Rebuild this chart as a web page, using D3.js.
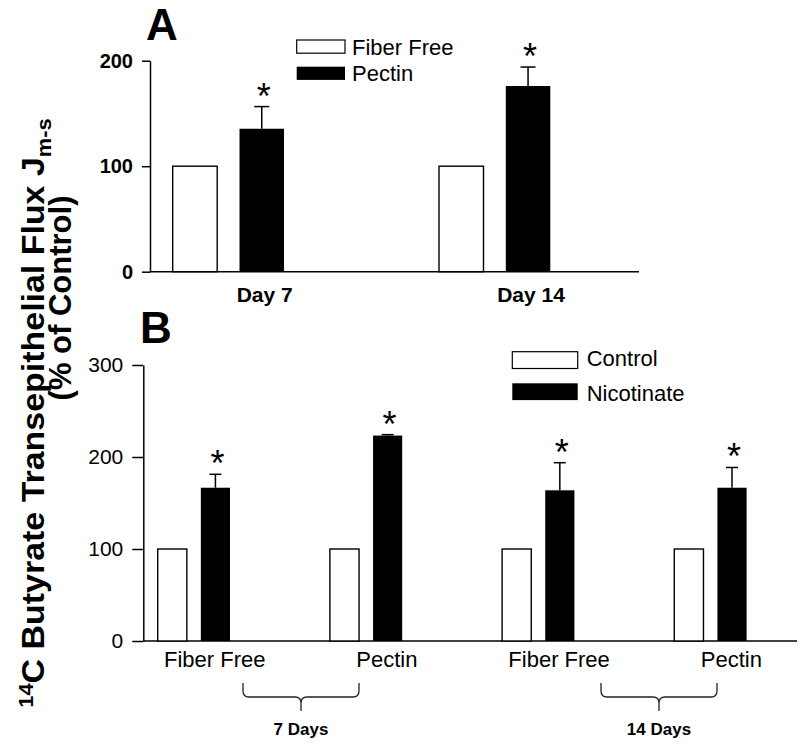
<!DOCTYPE html>
<html><head><meta charset="utf-8">
<script src="https://cdn.jsdelivr.net/npm/d3@7"></script>
<style>
body{margin:0;background:#fff}
svg{display:block}
text{font-family:"Liberation Sans",Arial,Helvetica,sans-serif;fill:#000}
</style>
</head><body>
<svg id="chart" width="809" height="744"></svg>
<script>
// ---------- Panel A data ----------
const daysA = ["Day 7", "Day 14"];
const seriesA = ["Fiber Free", "Pectin"];
const fiberFreeA = [100, 100];
const pectinA = [135.5, 176];
const pectinErrA = [21, 18];
const ticksA = [0, 100, 200];

// ---------- Panel B data ----------
const groupsB = ["FF7", "P7", "FF14", "P14"];
const groupLabelsB = ["Fiber Free", "Pectin", "Fiber Free", "Pectin"];
const seriesB = ["Control", "Nicotinate"];
const controlB = [100, 100, 100, 100];
const nicotinateB = [166.6, 223.3, 163.8, 166.6];
const nicotinateErrB = [14.6, 1, 30, 22];
const periodsB = ["7 Days", "14 Days"];
const ticksB = [0, 100, 200, 300];

const svg = d3.select("#chart");
const ink = "#000";

// ================= PANEL A =================
const yA = d3.scaleLinear().domain([0, 200]).range([271.7, 60.7]);
const xA = d3.scalePoint().domain(daysA).range([172.7, 439]);
const subA = d3.scaleBand().domain(seriesA).range([0, 111.3]).paddingInner(0.334);
const axA = 150;

const gA = svg.append("g");
const axisA = d3.axisLeft(yA).tickValues(ticksA).tickSize(8).tickSizeOuter(0).tickPadding(9);
gA.append("g").attr("transform", `translate(${axA},0)`).call(axisA)
  .call(g => g.selectAll("path,line").attr("stroke", ink).attr("stroke-width", 1.5))
  .call(g => g.selectAll("text").attr("font-size", 20).attr("font-weight", "bold")
    .attr("font-family", '"Liberation Sans",Arial,sans-serif').attr("fill", ink));
gA.append("line").attr("x1", axA).attr("x2", 639).attr("y1", yA(0)).attr("y2", yA(0))
  .attr("stroke", ink).attr("stroke-width", 1.5);

daysA.forEach((d, i) => {
  const x0 = xA(d);
  gA.append("rect").attr("x", x0 + subA("Fiber Free")).attr("y", yA(fiberFreeA[i]))
    .attr("width", subA.bandwidth()).attr("height", yA(0) - yA(fiberFreeA[i]))
    .attr("fill", "#fff").attr("stroke", ink).attr("stroke-width", 1.4);
  const px = x0 + subA("Pectin");
  gA.append("rect").attr("x", px).attr("y", yA(pectinA[i]))
    .attr("width", subA.bandwidth()).attr("height", yA(0) - yA(pectinA[i]))
    .attr("fill", ink);
  const cx = px + subA.bandwidth() / 2;
  const top = yA(pectinA[i] + pectinErrA[i]);
  gA.append("line").attr("x1", cx).attr("x2", cx).attr("y1", yA(pectinA[i])).attr("y2", top)
    .attr("stroke", ink).attr("stroke-width", 1.5);
  gA.append("line").attr("x1", cx - 7.5).attr("x2", cx + 7.5).attr("y1", top).attr("y2", top)
    .attr("stroke", ink).attr("stroke-width", 1.5);
  gA.append("text").attr("x", cx + 2).attr("y", top + 2).attr("text-anchor", "middle")
    .attr("font-size", 36).text("*");
  gA.append("text").attr("x", x0 + 92).attr("y", 301.5).attr("text-anchor", "middle")
    .attr("font-size", 21).attr("font-weight", "bold").text(d);
});

// Legend A
const legA = svg.append("g");
seriesA.forEach((s, i) => {
  legA.append("rect").attr("x", 296.7).attr("y", 40 + i * 26.7).attr("width", 48.3).attr("height", 13.2)
    .attr("fill", i === 0 ? "#fff" : ink).attr("stroke", ink).attr("stroke-width", i === 0 ? 1.2 : 0);
  legA.append("text").attr("x", 352).attr("y", 54.5 + i * 26.3).attr("font-size", 22).text(s);
});
svg.append("text").attr("x", 146).attr("y", 40).attr("font-size", 44).attr("font-weight", "bold").text("A");

// ================= PANEL B =================
const yB = d3.scaleLinear().domain([0, 300]).range([641, 365]);
const xB = d3.scalePoint().domain(groupsB).range([157.7, 674.3]);
const subB = d3.scaleBand().domain(seriesB).range([0, 72.3]).paddingInner(0.324);
const axB = 143.3;

const gB = svg.append("g");
const axisB = d3.axisLeft(yB).tickValues(ticksB).tickSize(11).tickSizeOuter(0).tickPadding(9);
gB.append("g").attr("transform", `translate(${axB},0)`).call(axisB)
  .call(g => g.selectAll("path,line").attr("stroke", ink).attr("stroke-width", 1.5))
  .call(g => g.selectAll("text").attr("font-size", 21).attr("font-weight", "normal")
    .attr("font-family", '"Liberation Sans",Arial,sans-serif').attr("fill", ink));
gB.append("line").attr("x1", axB).attr("x2", 797).attr("y1", yB(0)).attr("y2", yB(0))
  .attr("stroke", ink).attr("stroke-width", 1.5);

groupsB.forEach((g, i) => {
  const x0 = xB(g);
  gB.append("rect").attr("x", x0 + subB("Control")).attr("y", yB(controlB[i]))
    .attr("width", subB.bandwidth()).attr("height", yB(0) - yB(controlB[i]))
    .attr("fill", "#fff").attr("stroke", ink).attr("stroke-width", 1.4);
  const nx = x0 + subB("Nicotinate");
  gB.append("rect").attr("x", nx).attr("y", yB(nicotinateB[i]))
    .attr("width", subB.bandwidth()).attr("height", yB(0) - yB(nicotinateB[i]))
    .attr("fill", ink);
  const cx = nx + subB.bandwidth() / 2;
  const top = yB(nicotinateB[i] + nicotinateErrB[i]);
  gB.append("line").attr("x1", cx).attr("x2", cx).attr("y1", yB(nicotinateB[i])).attr("y2", top)
    .attr("stroke", ink).attr("stroke-width", 1.5);
  gB.append("line").attr("x1", cx - 6).attr("x2", cx + 6).attr("y1", top).attr("y2", top)
    .attr("stroke", ink).attr("stroke-width", 1.5);
  gB.append("text").attr("x", cx + 2).attr("y", top + 2).attr("text-anchor", "middle")
    .attr("font-size", 36).text("*");
  gB.append("text").attr("x", x0 + 57).attr("y", 667).attr("text-anchor", "middle")
    .attr("font-size", 22).text(groupLabelsB[i]);
});

// Braces
const xP = d3.scalePoint().domain(periodsB).range([301, 659]);
periodsB.forEach(p => {
  const c = xP(p), l = c - 58, r = c + 58;
  const yt = 683, yb = 697, ye = 711, k = 6;
  const path = `M${l},${yt} L${l},${yb - k} Q${l},${yb} ${l + k},${yb} L${c - k},${yb} Q${c},${yb} ${c},${yb + k} L${c},${ye}
    M${c},${yb + k} Q${c},${yb} ${c + k},${yb} L${r - k},${yb} Q${r},${yb} ${r},${yb - k} L${r},${yt}`;
  gB.append("path").attr("d", path).attr("fill", "none").attr("stroke", "#222").attr("stroke-width", 1.3);
  gB.append("text").attr("x", c).attr("y", 735).attr("text-anchor", "middle")
    .attr("font-size", 17).attr("font-weight", "bold").text(p);
});

// Legend B
const legB = svg.append("g");
seriesB.forEach((s, i) => {
  legB.append("rect").attr("x", 512.3).attr("y", 351.7 + i * 31.6).attr("width", 65.4).attr("height", 16.8)
    .attr("fill", i === 0 ? "#fff" : ink).attr("stroke", ink).attr("stroke-width", i === 0 ? 1.2 : 0);
  legB.append("text").attr("x", 586.7).attr("y", 366 + i * 35).attr("font-size", 22).text(s);
});
svg.append("text").attr("x", 140).attr("y", 343).attr("font-size", 44).attr("font-weight", "bold").text("B");

// ================= Y title =================
const t1 = svg.append("text").attr("transform", "translate(44,413) rotate(-90) scale(1.095,1)")
  .attr("text-anchor", "middle").attr("font-weight", "bold").attr("font-size", 31);
t1.append("tspan").attr("font-size", 20).attr("dy", -11).text("14");
t1.append("tspan").attr("dy", 11).text("C Butyrate Transepithelial Flux J");
t1.append("tspan").attr("font-size", 20).attr("dy", 7).text("m-s");
svg.append("text").attr("transform", "translate(71,298) rotate(-90)")
  .attr("text-anchor", "middle").attr("font-weight", "bold").attr("font-size", 31)
  .text("(% of Control)");
</script>
</body></html>
